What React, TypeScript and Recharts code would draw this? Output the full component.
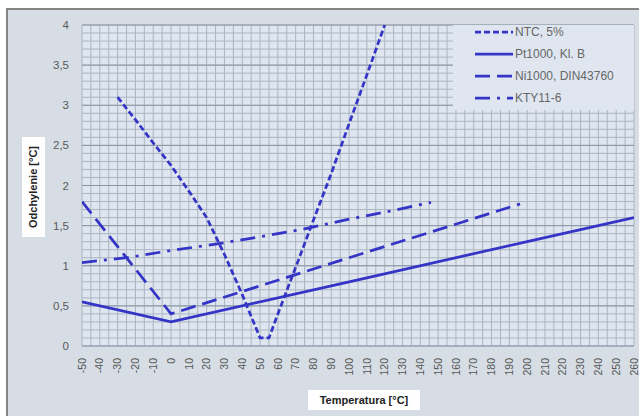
import React from 'react';
import { LineChart, Line, XAxis, YAxis, CartesianGrid, ReferenceLine, Legend } from 'recharts';

const xTickLabels = [-50, -40, -30, -20, -10, 0, 10, 20, 30, 40, 50, 60, 70, 80, 90, 100, 110, 120, 130, 140, 150, 160, 170, 180, 190, 200, 210, 220, 230, 240, 250, 260];
const yTickLabels = [0, 0.5, 1, 1.5, 2, 2.5, 3, 3.5, 4];

const ntcTemps = [-30, -20, -10, 0, 10, 20, 30, 40, 50, 55, 60, 70, 80, 90, 100, 110, 120];
const ntcValues = [3.1, 2.82, 2.53, 2.25, 1.93, 1.6, 1.14, 0.64, 0.1, 0.1, 0.4, 0.98, 1.57, 2.15, 2.77, 3.38, 4.0];

const ptTemps = [-50, 0, 100, 200, 260];
const ptValues = [0.55, 0.3, 0.8, 1.3, 1.6];

const niTemps = [-50, 0, 100, 196];
const niValues = [1.8, 0.4, 1.1, 1.77];

const ktyTemps = [-50, -25, 0, 25, 50, 75, 100, 125, 146];
const ktyValues = [1.04, 1.1, 1.19, 1.27, 1.36, 1.46, 1.58, 1.69, 1.79];

const seriesNames = ['NTC, 5%', 'Pt1000, Kl. B', 'Ni1000, DIN43760', 'KTY11-6'];
const dashes = ['6 3', '', '15 7', '15 7 3 7'];

const zip = (ts: number[], vs: number[]) => ts.map((t, i) => ({ t, v: vs[i] }));
const seriesData = [zip(ntcTemps, ntcValues), zip(ptTemps, ptValues), zip(niTemps, niValues), zip(ktyTemps, ktyValues)];

const xGridTicks = Array.from({ length: 63 }, (_, i) => -50 + i * 5);
const yGridTicks = Array.from({ length: 41 }, (_, i) => i / 10);

const LINE = '#3434c6';
const FONT = '"Liberation Sans", Arial, sans-serif';

const XTick = (props: any) => {
  const { x, y, payload } = props;
  const v = payload.value;
  if (!xTickLabels.includes(v)) return null;
  return (
    <text x={x} y={y} transform={`rotate(-90 ${x} ${y})`} textAnchor="end" dy="0.35em" fontSize={10.5} fill="#555" fontFamily={FONT}>
      {v}
    </text>
  );
};

const yFmt = (v: number) => {
  const isMajor = yTickLabels.some((m) => Math.abs(m - v) < 1e-6);
  return isMajor ? String(Math.round(v * 10) / 10).replace('.', ',') : '';
};

const LegendContent = () => (
  <svg width={181} height={85}>
    {seriesNames.map((name, i) => {
      const cy = 7 + i * 22;
      return (
        <g key={name}>
          <line x1={22} x2={60} y1={cy} y2={cy} stroke={LINE} strokeWidth={2.75} strokeDasharray={dashes[i] || undefined} />
          <text x={62} y={cy} dy="0.35em" fontSize={12} fill="#666" fontFamily={FONT}>
            {name}
          </text>
        </g>
      );
    })}
  </svg>
);

export default function App() {
  return (
    <div
      style={{
        position: 'fixed',
        left: 6,
        top: 8,
        width: 633,
        height: 408,
        boxSizing: 'border-box',
        borderTop: '2px solid #858585',
        borderLeft: '2px solid #858585',
        background: '#d6dde4',
        overflow: 'hidden',
      }}
    >
      <LineChart width={631} height={406} margin={{ top: 15, right: 5, left: 0, bottom: 0 }}>
        <CartesianGrid stroke="#aab5c1" strokeWidth={1} fill="#dfe6f0" fillOpacity={1} />
        {yTickLabels.map((v) => (
          <ReferenceLine key={v} y={v} stroke="#8a96a4" strokeWidth={1} ifOverflow="extendDomain" />
        ))}
        <XAxis
          type="number"
          dataKey="t"
          domain={[-50, 260]}
          ticks={xGridTicks}
          interval={0}
          tick={<XTick />}
          tickLine={false}
          axisLine={false}
          tickSize={0}
          tickMargin={12}
          height={70}
          allowDataOverflow
        />
        <YAxis
          type="number"
          dataKey="v"
          domain={[0, 4]}
          ticks={yGridTicks}
          interval={0}
          tickFormatter={yFmt}
          tickLine={false}
          axisLine={false}
          tickSize={0}
          tickMargin={13}
          width={74}
          tick={{ fontSize: 11.5, fill: '#5a5a5a', fontFamily: FONT }}
          allowDataOverflow
        />
        <Legend
          layout="vertical"
          align="center"
          verticalAlign="middle"
          content={<LegendContent />}
          wrapperStyle={{ position: 'absolute', left: 445, top: 15, width: 181, height: 85, background: '#dfe6f0' }}
        />
        {seriesData.map((d, i) => (
          <Line
            key={seriesNames[i]}
            data={d}
            dataKey="v"
            name={seriesNames[i]}
            type="linear"
            stroke={LINE}
            strokeWidth={2.75}
            strokeDasharray={dashes[i] || undefined}
            dot={false}
            activeDot={false}
            isAnimationActive={false}
          />
        ))}
      </LineChart>
      <div
        style={{
          position: 'absolute',
          left: 14,
          top: 127,
          width: 23,
          height: 100,
          background: '#ffffff',
          display: 'flex',
          alignItems: 'center',
          justifyContent: 'center',
        }}
      >
        <div style={{ transform: 'rotate(-90deg)', whiteSpace: 'nowrap', fontFamily: FONT, fontSize: 11, fontWeight: 'bold', color: '#222' }}>
          Odchylenie [°C]
        </div>
      </div>
      <div
        style={{
          position: 'absolute',
          left: 300,
          top: 380,
          width: 112,
          height: 20,
          background: '#ffffff',
          display: 'flex',
          alignItems: 'center',
          justifyContent: 'center',
          fontFamily: FONT,
          fontSize: 11,
          fontWeight: 'bold',
          color: '#222',
          whiteSpace: 'nowrap',
        }}
      >
        Temperatura [°C]
      </div>
    </div>
  );
}
